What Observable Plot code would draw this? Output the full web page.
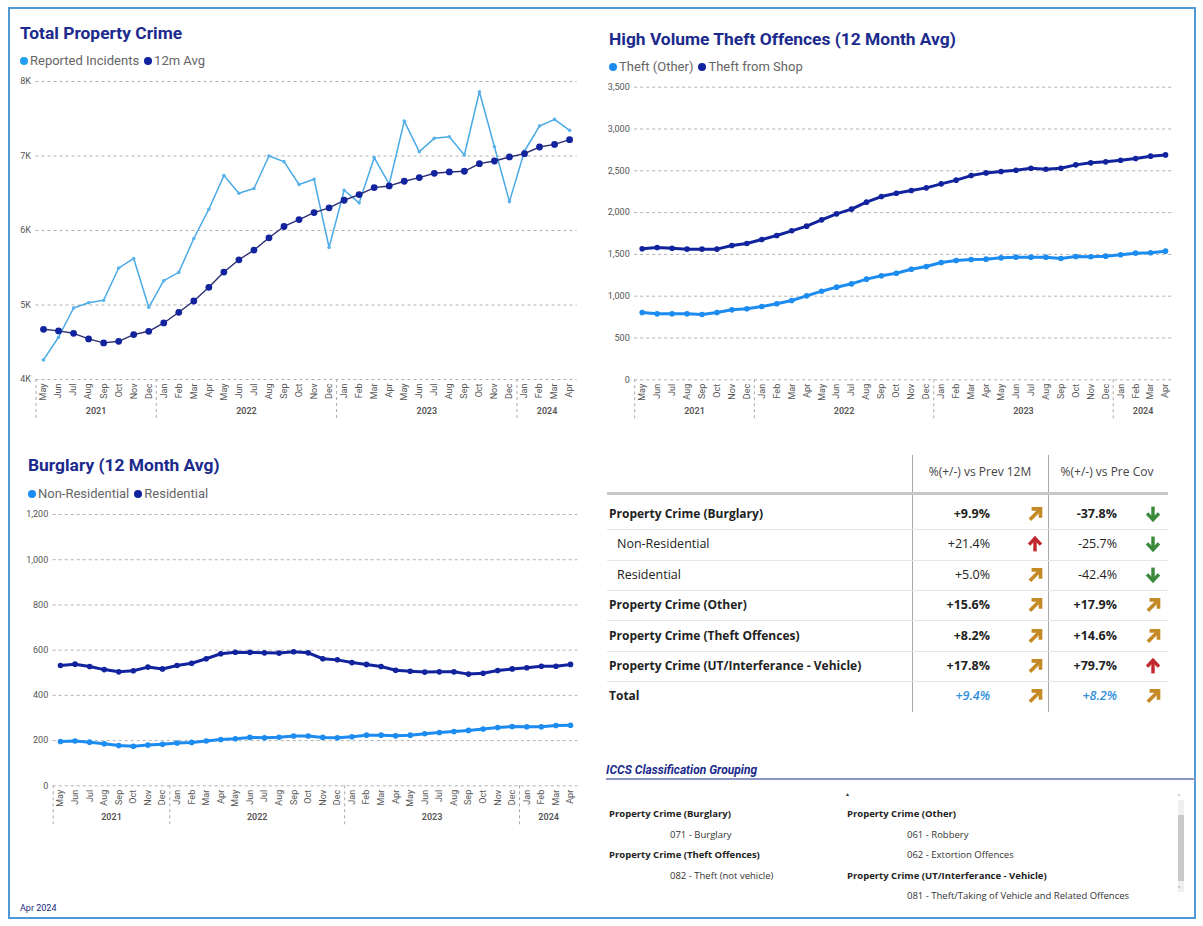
<!DOCTYPE html>
<html><head><meta charset="utf-8">
<script src="https://cdn.jsdelivr.net/npm/d3@7"></script>
<script src="https://cdn.jsdelivr.net/npm/@observablehq/plot@0.6"></script>
<style>
body{margin:0;width:1203px;height:926px;background:#fff;position:relative;overflow:hidden;font-family:Roboto,"Noto Sans",sans-serif;}
.abs{position:absolute;white-space:nowrap;}
.frame{position:absolute;left:8px;top:7px;width:1188px;height:912px;border:2px solid #4f9ad6;box-sizing:border-box;}
.title{font-family:Roboto,sans-serif;font-weight:700;font-size:17.4px;color:#1b2a8c;line-height:22px;}
.legend{font-size:13px;color:#666;line-height:16px;}
.legend .dot{display:inline-block;width:8px;height:8px;border-radius:50%;margin-right:2px;vertical-align:0px;}
.legend .item{margin-right:5px;}
.tbl{font-family:"Open Sans",sans-serif;font-size:11.5px;color:#222;line-height:16px;}
.iccs{font-family:"Open Sans",sans-serif;font-size:9.5px;color:#333;line-height:12px;}
</style></head>
<body>
<div class="frame"></div>
<div id="root"></div>
<script>
// ---------- data ----------
const monthLabels = ["May","Jun","Jul","Aug","Sep","Oct","Nov","Dec",
  "Jan","Feb","Mar","Apr","May","Jun","Jul","Aug","Sep","Oct","Nov","Dec",
  "Jan","Feb","Mar","Apr","May","Jun","Jul","Aug","Sep","Oct","Nov","Dec",
  "Jan","Feb","Mar","Apr"];
const monthYears = ["2021","2021","2021","2021","2021","2021","2021","2021",
  "2022","2022","2022","2022","2022","2022","2022","2022","2022","2022","2022","2022",
  "2023","2023","2023","2023","2023","2023","2023","2023","2023","2023","2023","2023",
  "2024","2024","2024","2024"];

const reportedIncidents = [4263,4567,4960,5031,5063,5496,5625,4969,
  5326,5438,5893,6286,6737,6500,6563,7000,6924,6617,6688,5772,
  6540,6371,6978,6621,7469,7058,7237,7259,7013,7862,7125,6388,
  7067,7402,7491,7344];
const avg12m = [4674,4652,4620,4545,4491,4513,4603,4647,
  4759,4902,5054,5237,5442,5607,5737,5902,6054,6147,6241,6304,
  6406,6482,6576,6598,6661,6710,6768,6786,6795,6897,6933,6987,
  7031,7121,7156,7219];

const theftOther = [805,789,789,789,781,805,837,849,
  877,909,949,1004,1060,1108,1148,1204,1244,1275,1323,1355,
  1403,1427,1439,1443,1459,1467,1467,1467,1451,1475,1471,1479,
  1495,1515,1519,1539];
const theftFromShop = [1567,1582,1574,1563,1563,1563,1606,1630,
  1678,1726,1782,1838,1913,1985,2041,2125,2192,2232,2264,2296,
  2344,2388,2443,2475,2491,2507,2531,2519,2531,2571,2595,2607,
  2627,2647,2675,2690];

const nonResidential = [196,198,193,186,178,175,180,184,
  189,192,198,205,208,214,212,215,220,220,214,212,
  217,224,224,221,224,230,236,240,245,251,258,262,
  261,261,267,268];
const residential = [532,538,528,514,504,509,525,517,
  532,542,562,584,591,590,588,587,593,588,562,557,
  545,537,528,511,507,503,504,504,494,498,510,517,
  522,529,529,537];

const tableLabels = ["Property Crime (Burglary)","Non-Residential","Residential",
  "Property Crime (Other)","Property Crime (Theft Offences)",
  "Property Crime (UT/Interferance - Vehicle)","Total"];
const tableKinds = ["group","sub","sub","group","group","group","total"];
const vsPrev12 = ["+9.9%","+21.4%","+5.0%","+15.6%","+8.2%","+17.8%","+9.4%"];
const vsPrev12Icons = ["ne","up","ne","ne","ne","ne","ne"];
const vsPreCov = ["-37.8%","-25.7%","-42.4%","+17.9%","+14.6%","+79.7%","+8.2%"];
const vsPreCovIcons = ["down","down","down","ne","ne","up","ne"];
const tableHeaders = ["%(+/-) vs Prev 12M","%(+/-) vs Pre Cov"];

const iccsLeft = [["Property Crime (Burglary)",true],["071 - Burglary",false],
  ["Property Crime (Theft Offences)",true],["082 - Theft (not vehicle)",false]];
const iccsRight = [["Property Crime (Other)",true],["061 - Robbery",false],
  ["062 - Extortion Offences",false],["Property Crime (UT/Interferance - Vehicle)",true],
  ["081 - Theft/Taking of Vehicle and Related Offences",false]];

// ---------- helpers ----------
const root = document.getElementById("root");
function place(html, cls, left, top, extra="") {
  const d = document.createElement("div");
  d.className = "abs " + cls;
  d.style.left = left + "px"; d.style.top = top + "px";
  if (extra) d.style.cssText += extra;
  d.innerHTML = html;
  root.appendChild(d);
  return d;
}
const idx = d3.range(monthLabels.length);
const yearGroups = d3.groups(idx, i => monthYears[i]);
const yearCenters = yearGroups.map(([y, is]) => ({year: y, x: d3.mean(is)}));
const yearBreaks = yearGroups.map(([y, is]) => d3.min(is) - 0.5);

function chart({left, top, width, height, mt, mb, ml, mr, yDomain, yTicks, yFmt, series, sepDepth}) {
  const plotH = height - mt - mb;
  const marks = [
    Plot.gridY(yTicks, {stroke: "#9d9d9d", strokeOpacity: 1, strokeDasharray: "3,3", strokeWidth: 0.8}),
    Plot.axisY(yTicks, {tickSize: 0, tickPadding: 5, tickFormat: yFmt, label: null, fill: "#555", fontSize: 9}),
    Plot.axisX(idx, {tickSize: 0, tickRotate: -90, tickPadding: 4, tickFormat: i => monthLabels[i], label: null, fill: "#555", fontSize: 9}),
    Plot.ruleX(yearBreaks, {insetTop: plotH, insetBottom: -sepDepth, stroke: "#aaa", strokeDasharray: "3,3"}),
    Plot.text(yearCenters, {x: "x", text: "year", frameAnchor: "bottom", dy: 34, fill: "#555", fontWeight: 600, fontSize: 9})
  ];
  for (const s of series) {
    const data = s.values.map((v, i) => ({i, v}));
    marks.push(Plot.line(data, {x: "i", y: "v", stroke: s.lineColor || s.color, strokeWidth: s.lw}));
    marks.push(Plot.dot(data, {x: "i", y: "v", fill: s.color, r: s.r}));
  }
  const svg = Plot.plot({
    width, height, marginTop: mt, marginBottom: mb, marginLeft: ml, marginRight: mr,
    x: {type: "linear", domain: [-0.5, monthLabels.length - 0.5]},
    y: {domain: yDomain},
    style: {fontFamily: "Roboto, sans-serif", fontSize: "9px", background: "transparent", overflow: "visible"},
    marks
  });
  const d = document.createElement("div");
  d.className = "abs";
  d.style.left = left + "px"; d.style.top = top + "px";
  d.appendChild(svg);
  root.appendChild(d);
}
function legend(items, left, top) {
  place(items.map(([c, t]) => `<span class="item"><span class="dot" style="background:${c}"></span>${t}</span>`).join(""), "legend", left, top);
}

const NAVY = "#12239e", BRIGHT = "#1d8cf0";

// ---------- chart 1 ----------
place("Total Property Crime", "title", 20, 22);
legend([[ "#1fa0f0", "Reported Incidents"], [NAVY, "12m Avg"]], 20, 53);
chart({left: 0, top: 72, width: 600, height: 360, mt: 9, mb: 53, ml: 35.5, mr: 23.4,
  yDomain: [4000, 8000], yTicks: [4000, 5000, 6000, 7000, 8000], yFmt: d => d / 1000 + "K",
  sepDepth: 40,
  series: [
    {values: reportedIncidents, color: "#5ab3ea", lineColor: "#4aaae6", lw: 1.5, r: 1.8},
    {values: avg12m, color: NAVY, lineColor: "#2a2d70", lw: 1.4, r: 3.4}
  ]});

// ---------- chart 2 ----------
place("High Volume Theft Offences (12 Month Avg)", "title", 609, 28);
legend([[BRIGHT, "Theft (Other)"], [NAVY, "Theft from Shop"]], 609, 59);
chart({left: 590, top: 76, width: 610, height: 355, mt: 10.7, mb: 51.7, ml: 44.2, mr: 27.5,
  yDomain: [0, 3500], yTicks: d3.range(0, 3501, 500), yFmt: d3.format(","),
  sepDepth: 40,
  series: [
    {values: theftOther, color: BRIGHT, lw: 3, r: 2.8},
    {values: theftFromShop, color: NAVY, lw: 3, r: 2.8}
  ]});

// ---------- chart 3 ----------
place("Burglary (12 Month Avg)", "title", 28, 454);
legend([[BRIGHT, "Non-Residential"], [NAVY, "Residential"]], 28, 486);
chart({left: 0, top: 504, width: 600, height: 335, mt: 10, mb: 53.7, ml: 52.7, mr: 22.7,
  yDomain: [0, 1200], yTicks: d3.range(0, 1201, 200), yFmt: d3.format(","),
  sepDepth: 42,
  series: [
    {values: nonResidential, color: BRIGHT, lw: 3, r: 2.8},
    {values: residential, color: NAVY, lw: 3, r: 2.8}
  ]});

place("Apr 2024", "", 20, 903, "font-size:9px;color:#1b2a7a;font-family:Roboto,sans-serif;");

// ---------- table ----------
function icon(kind) {
  if (kind === "ne") return `<svg width="16" height="16" viewBox="0 0 14 14"><path d="M2.5 12 L11 3.5" stroke="#c48a26" stroke-width="3.2" fill="none"/><path d="M4 2.5 H11.8 V10.3" stroke="#c48a26" stroke-width="3.2" fill="none" stroke-linejoin="miter"/></svg>`;
  if (kind === "up") return `<svg width="16" height="16" viewBox="0 0 14 14"><path d="M7 13.5 V3" stroke="#c0282d" stroke-width="3" fill="none"/><path d="M1.8 7.5 L7 2 L12.2 7.5" stroke="#c0282d" stroke-width="3" fill="none"/></svg>`;
  return `<svg width="16" height="16" viewBox="0 0 14 14"><path d="M7 0.5 V11" stroke="#3a8a3a" stroke-width="3" fill="none"/><path d="M1.8 6.5 L7 12 L12.2 6.5" stroke="#3a8a3a" stroke-width="3" fill="none"/></svg>`;
}
const TX = 607, TW = 561, TTOP = 455, ROW0 = 514, ROWH = 30.4;
place("", "", 912, TTOP, "width:1px;height:257px;background:#a8a8a8;");
place("", "", 1048, TTOP, "width:1px;height:257px;background:#a8a8a8;");
place(tableHeaders[0], "tbl", 922, 464, "font-size:12px;color:#444;width:116px;text-align:center;");
place(tableHeaders[1], "tbl", 1052, 464, "font-size:12px;color:#444;width:110px;text-align:center;");
place("", "", TX, 492, `width:${TW}px;height:3px;background:#c8c8c8;`);
tableLabels.forEach((lab, k) => {
  const cy = ROW0 + k * ROWH;
  const kind = tableKinds[k];
  const bold = kind !== "sub";
  const weight = bold ? "700" : "400";
  place(lab, "tbl", kind === "sub" ? 617 : 609, cy - 8, `font-weight:${weight};font-size:${bold ? 12 : 12.5}px;`);
  const valStyle = kind === "total" ? "color:#2f8fdb;font-style:italic;font-weight:600;" : `font-weight:${weight};`;
  place(vsPrev12[k], "tbl", 930, cy - 8, `width:60px;text-align:right;font-size:12.5px;${valStyle}`);
  place(vsPreCov[k], "tbl", 1057, cy - 8, `width:60px;text-align:right;font-size:12.5px;${valStyle}`);
  place(icon(vsPrev12Icons[k]), "", 1027, cy - 8, "line-height:0;");
  place(icon(vsPreCovIcons[k]), "", 1145, cy - 8, "line-height:0;");
  if (k < tableLabels.length - 1)
    place("", "", TX, cy + ROWH / 2, `width:${TW}px;height:1px;background:#e6e6e6;`);
});

// ---------- ICCS ----------
place("ICCS Classification Grouping", "", 606, 763, "font-family:Roboto,sans-serif;font-size:12px;font-weight:700;font-style:italic;color:#1b2a8c;");
place("", "", 606, 778, "width:590px;height:2px;background:#8c96c4;");
place("&#9650;", "", 845, 791, "font-size:5px;color:#333;");
iccsLeft.forEach(([t, b], k) => place(t, "iccs", b ? 609 : 670, 808 + k * 20.5, b ? "font-weight:700;color:#222;" : ""));
iccsRight.forEach(([t, b], k) => place(t, "iccs", b ? 847 : 907, 808 + k * 20.5, b ? "font-weight:700;color:#222;" : ""));
place("", "", 1178, 800, "width:6px;height:92px;background:#efefef;");
place("", "", 1178, 815, "width:6px;height:66px;background:#c9c9c9;");
place("&#708;", "", 1178, 792, "font-size:8px;color:#666;");
place("&#709;", "", 1178, 884, "font-size:8px;color:#666;");
</script>
</body></html>
